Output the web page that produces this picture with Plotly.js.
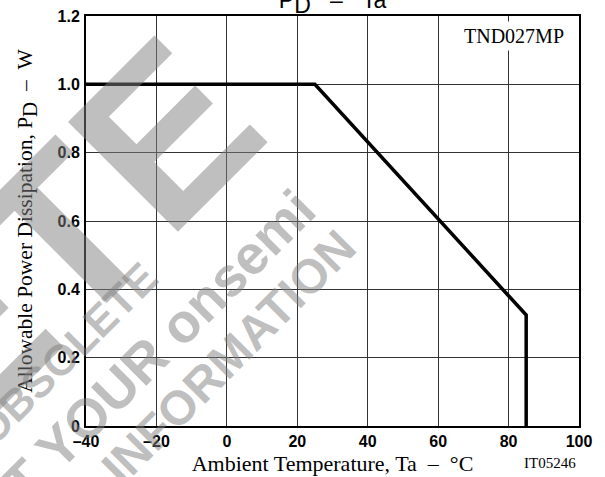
<!DOCTYPE html>
<html><head><meta charset="utf-8">
<script src="https://cdn.plot.ly/plotly-3.0.1.min.js"></script>
<style>html,body{margin:0;padding:0;background:#fff}#chart{width:605px;height:477px}</style>
</head><body><div id="chart"></div>
<script>
// ---- data ----
const temperature = [-40, 25, 85, 85];
const powerDissipation = [1.0, 1.0, 0.325, 0];
const xTickVals = [-40, -20, 0, 20, 40, 60, 80, 100];
const xTickText = ['\u201340', '\u201320', '0', '20', '40', '60', '80', '100'];
const yTickVals = [0, 0.2, 0.4, 0.6, 0.8, 1.0, 1.2];
const yTickText = ['0', '0.2', '0.4', '0.6', '0.8', '1.0', '1.2'];
const watermarkLines = ['OBSOLETE', 'OBSOLETE', 'CONTACT YOUR onsemi', 'INFORMATION'];

// ---- layout helpers ----
const W = 605, H = 477, ML = 86, MR = 26, MT = 16, MB = 51;
const PW = W - ML - MR, PH = H - MT - MB;
const px = x => (x - ML) / PW;
const py = y => (H - MB - y) / PH;
const sp = '\u00a0';

const wmStyle = [
  {cx: -222, cy: 520, size: 226},
  {cx: 66, cy: 354, size: 43},
  {cx: 77, cy: 428, size: 55},
  {cx: 228, cy: 357, size: 48}
];
const watermark = watermarkLines.map((t, i) => ({
  text: t, xref: 'paper', yref: 'paper',
  x: px(wmStyle[i].cx), y: py(wmStyle[i].cy),
  xanchor: 'center', yanchor: 'middle', showarrow: false, textangle: -45,
  font: {family: 'Liberation Sans, Arial, sans-serif', size: wmStyle[i].size, color: 'rgba(128,128,128,0.5)', weight: 'bold'}
}));

const trace = {
  x: temperature, y: powerDissipation, type: 'scatter', mode: 'lines',
  line: {color: '#000', width: 3.5}, hoverinfo: 'skip', showlegend: false
};

const layout = {
  width: W, height: H,
  margin: {l: ML, r: MR, t: MT, b: MB, pad: 0},
  paper_bgcolor: '#fff', plot_bgcolor: '#fff',
  title: {
    text: 'P<sub><span style="font-size:23px">D</span></sub>' + sp+sp+sp + '\u2013' + sp+sp+sp + 'Ta',
    font: {family: 'Liberation Sans, Arial, sans-serif', size: 23, color: '#000'},
    x: 0.5, xref: 'paper', xanchor: 'center', y: 1, yref: 'container', yanchor: 'middle'
  },
  xaxis: {
    range: [-40, 100], tickvals: xTickVals, ticktext: xTickText,
    showgrid: true, gridcolor: '#333', gridwidth: 1, zeroline: false,
    showline: true, linecolor: '#000', linewidth: 2, mirror: true,
    ticks: '', ticklabelstandoff: 0,
    tickfont: {family: 'Liberation Sans, Arial, sans-serif', size: 16, color: '#000', weight: 'bold'},
    title: {text: 'Ambient Temperature, Ta' + sp+sp + '\u2013' + sp+sp + '\u00b0C', standoff: 6,
            font: {family: 'Liberation Serif, Times New Roman, serif', size: 22, color: '#000'}},
    fixedrange: true
  },
  yaxis: {
    range: [0, 1.2], tickvals: yTickVals, ticktext: yTickText,
    showgrid: true, gridcolor: '#333', gridwidth: 1, zeroline: false,
    showline: true, linecolor: '#000', linewidth: 2, mirror: true,
    ticks: '', ticklabelstandoff: 1,
    tickfont: {family: 'Liberation Sans, Arial, sans-serif', size: 16, color: '#000', weight: 'bold'},
    title: {text: 'Allowable Power Dissipation, P<sub><span style="font-size:21px">D</span></sub>' + sp+sp + '\u2013' + sp+sp + 'W', standoff: 19,
            font: {family: 'Liberation Serif, Times New Roman, serif', size: 21.5, color: '#000'}},
    fixedrange: true
  },
  annotations: watermark.concat([
    {text: 'TND027MP', xref: 'paper', yref: 'paper', x: px(568), y: py(36),
     xanchor: 'right', yanchor: 'middle', showarrow: false, bgcolor: '#fff', borderpad: 3,
     font: {family: 'Liberation Serif, Times New Roman, serif', size: 20, color: '#000'}},
    {text: 'IT05246', xref: 'paper', yref: 'paper', x: px(578), y: py(463),
     xanchor: 'right', yanchor: 'middle', showarrow: false,
     font: {family: 'Liberation Serif, Times New Roman, serif', size: 15, color: '#000'}}
  ])
};

Plotly.newPlot('chart', [trace], layout, {staticPlot: true, displayModeBar: false});
</script>
</body></html>
